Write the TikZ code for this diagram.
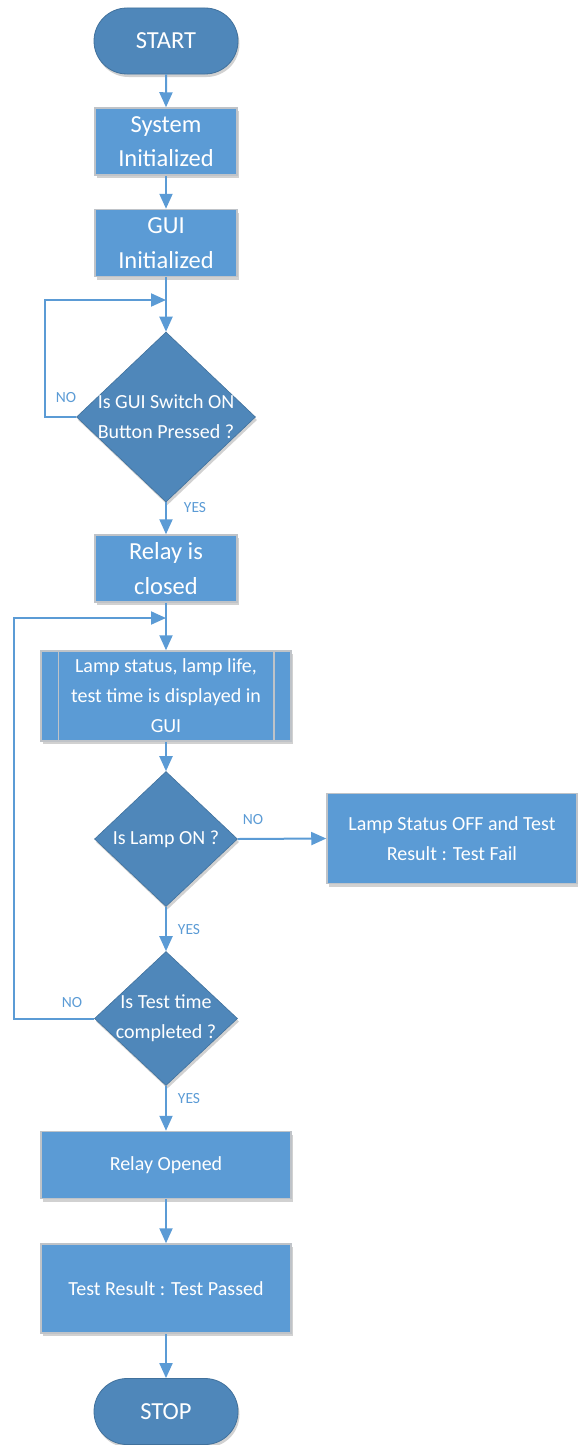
\documentclass[tikz,border=0pt]{standalone}
\usepackage{fontspec}
\setmainfont{Carlito}
\usetikzlibrary{shapes.geometric,shapes.misc,arrows.meta,shadows}
\definecolor{boxblue}{HTML}{5B9BD5}
\definecolor{darkblue}{HTML}{4F87BA}
\definecolor{edgeblue}{HTML}{41719C}
\definecolor{boxedge}{HTML}{BFC3C8}
\tikzset{
  shd/.style={drop shadow={shadow xshift=1.5pt,shadow yshift=-3pt,opacity=0.18,fill=black}},
  procbox/.style={rectangle,fill=boxblue,draw=boxedge,line width=1.5pt,text=white,align=center,inner sep=0pt,shd},
  termbox/.style={rounded rectangle,fill=darkblue,draw=edgeblue,line width=0.8pt,text=white,minimum width=144pt,minimum height=66pt,inner sep=0pt,shd,font=\fontsize{24.5}{29}\selectfont},
  decision/.style={diamond,fill=darkblue,draw=edgeblue,line width=0.6pt,inner sep=0pt,shd},
  dtext/.style={text=white,align=center,font=\fontsize{20}{30}\selectfont},
  bigtxt/.style={font=\fontsize{24.5}{34.5}\selectfont},
  medtxt/.style={font=\fontsize{20}{30}\selectfont},
  arr/.style={draw=boxblue,line width=2pt,-{Triangle[length=15pt,width=13pt]}},
  lbl/.style={text=boxblue,font=\fontsize{15.5}{18}\selectfont,inner sep=0pt},
}
\begin{document}
\begin{tikzpicture}[x=1pt,y=-1pt]
\useasboundingbox (0,0) rectangle (578,1445);
% nodes
\node[termbox] (start) at (166,41) {START};
\node[procbox,bigtxt,minimum width=142pt,minimum height=67pt] (sys) at (166,141.5) {System\\Initialized};
\node[procbox,bigtxt,minimum width=142pt,minimum height=67pt] (gui) at (166,243) {GUI\\Initialized};
\node[decision,minimum width=179pt,minimum height=170pt,label={[dtext]center:{Is GUI Switch ON\\Button Pressed ?}}] (d1) at (166,417) {};
\node[procbox,bigtxt,minimum width=142pt,minimum height=67pt] (relay) at (166,568.5) {Relay is\\closed};
\node[procbox,medtxt,minimum width=250pt,minimum height=90pt] (lamp) at (166,696) {Lamp status, lamp life,\\test time is displayed in\\GUI};
\draw[boxedge,line width=1.5pt] ([xshift=18pt]lamp.north west) -- ([xshift=18pt]lamp.south west);
\draw[boxedge,line width=1.5pt] ([xshift=-18pt]lamp.north east) -- ([xshift=-18pt]lamp.south east);
\node[decision,minimum width=143pt,minimum height=135pt,label={[dtext]center:{Is Lamp ON ?}}] (d2) at (166,839) {};
\node[procbox,medtxt,minimum width=250pt,minimum height=90pt] (fail) at (452,838.5) {Lamp Status OFF and Test\\Result : Test Fail};
\node[decision,minimum width=143pt,minimum height=134pt,label={[dtext]center:{Is Test time\\completed ?}}] (d3) at (166,1018.5) {};
\node[procbox,medtxt,minimum width=250pt,minimum height=67pt] (ropen) at (166,1165) {Relay Opened};
\node[procbox,medtxt,minimum width=250pt,minimum height=89pt] (tres) at (166,1288.5) {Test Result : Test Passed};
\node[termbox] (stop) at (166,1411.5) {STOP};
% junctions
\coordinate (j1) at (166,300);
\coordinate (l1) at (45,300);
\coordinate (j2) at (166,618);
\coordinate (l2) at (14,618);
% connectors
\draw[arr] (start) -- (sys);
\draw[arr] (sys) -- (gui);
\draw[arr] (gui) -- (d1);
\draw[arr] (d1.west) -| (l1) -- (j1);
\draw[arr] (d1) -- (relay);
\draw[arr] (relay) -- (lamp);
\draw[arr] (lamp) -- (d2);
\draw[arr] (d2.east) -- (fail.west);
\draw[arr] (d2) -- (d3);
\draw[arr] (d3.west) -| (l2) -- (j2);
\draw[arr] (d3) -- (ropen);
\draw[arr] (ropen) -- (tres);
\draw[arr] (tres) -- (stop);
% labels
\node[lbl] (no1) at (66,398) {NO};
\node[lbl] (yes1) at (195,508) {YES};
\node[lbl] (no2) at (253,820) {NO};
\node[lbl] (yes2) at (189,930) {YES};
\node[lbl] (no3) at (72,1003) {NO};
\node[lbl] (yes3) at (189,1099) {YES};
\end{tikzpicture}
\end{document}
